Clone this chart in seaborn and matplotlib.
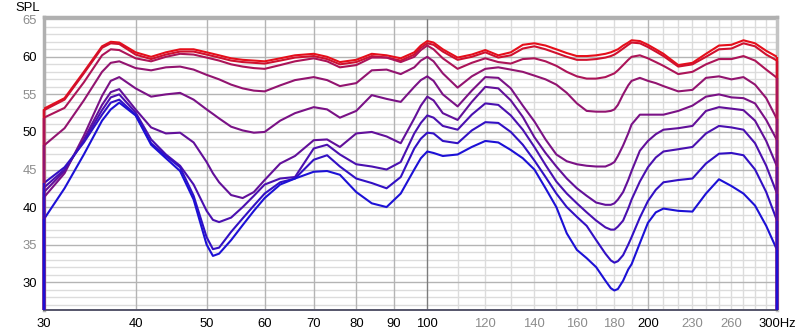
import matplotlib
matplotlib.use("Agg")
import matplotlib.pyplot as plt
import seaborn as sns
import pandas as pd

# ---------------- data ----------------
freqs = [30, 32, 34, 36, 37, 38, 40, 42, 44, 46, 48, 50, 51, 52, 54, 56, 58, 60, 63, 66,
         70, 73, 76, 80, 84, 88, 92, 96, 98, 100, 102, 105, 110, 115, 120, 125, 130, 135,
         140, 145, 150, 155, 160, 165, 170, 175, 178, 180, 182, 185, 188, 190, 195, 200,
         205, 210, 220, 230, 240, 250, 260, 270, 280, 290, 300]

spl_c9 = [53.1, 54.5, 58.0, 61.4, 62.0, 61.9, 60.6, 60.0, 60.6, 61.0, 61.0, 60.6, 60.4, 60.2, 59.8, 59.6, 59.5, 59.4, 59.8, 60.2,
          60.4, 60.0, 59.3, 59.6, 60.4, 60.2, 59.8, 60.6, 61.5, 62.1, 61.9, 61.0, 59.9, 60.3, 60.9, 60.2, 60.6, 61.6,
          61.8, 61.5, 61.0, 60.5, 60.1, 60.1, 60.2, 60.4, 60.6, 60.8, 61.0, 61.5, 61.9, 62.2, 62.1, 61.6,
          61.0, 60.4, 58.9, 59.2, 60.4, 61.5, 61.6, 62.2, 61.8, 60.8, 60.0]
spl_c8 = [52.9, 54.3, 57.8, 61.2, 61.8, 61.7, 60.3, 59.7, 60.3, 60.7, 60.7, 60.3, 60.1, 59.9, 59.5, 59.3, 59.2, 59.1, 59.5, 59.9,
          60.1, 59.7, 59.0, 59.3, 60.1, 59.9, 59.5, 60.3, 61.2, 61.8, 61.6, 60.7, 59.6, 60.0, 60.6, 59.9, 60.2, 61.1,
          61.4, 61.0, 60.5, 60.0, 59.6, 59.6, 59.7, 59.9, 60.1, 60.3, 60.6, 61.1, 61.6, 61.9, 61.8, 61.3,
          60.7, 60.1, 58.7, 59.0, 60.0, 61.0, 61.1, 61.8, 61.4, 60.3, 59.5]
spl_c7 = [51.9, 53.2, 56.6, 60.2, 61.0, 60.9, 59.8, 59.4, 60.0, 60.4, 60.3, 59.9, 59.7, 59.5, 59.0, 58.7, 58.5, 58.4, 58.9, 59.4,
          59.8, 59.4, 58.6, 58.9, 59.9, 59.9, 59.3, 60.0, 60.9, 61.5, 61.0, 59.8, 58.4, 59.2, 59.8, 59.3, 59.1, 59.7,
          59.8, 59.4, 58.8, 58.0, 57.4, 57.1, 57.1, 57.3, 57.6, 57.8, 58.2, 58.9, 59.6, 60.0, 60.2, 59.8,
          59.3, 58.8, 57.7, 58.0, 59.0, 59.7, 59.7, 60.1, 59.5, 58.3, 57.2]
spl_c6 = [48.2, 50.5, 54.2, 58.0, 59.2, 59.4, 58.5, 58.2, 58.6, 58.7, 58.3, 57.6, 57.3, 57.0, 56.3, 55.8, 55.5, 55.4, 56.2, 56.9,
          57.3, 56.9, 56.1, 56.5, 58.2, 58.3, 57.7, 58.6, 59.5, 60.0, 59.4, 57.8, 55.9, 57.4, 58.4, 58.6, 58.3, 58.0,
          57.5, 57.0, 56.3, 55.2, 53.8, 52.8, 52.7, 52.7, 52.8, 53.0, 53.6, 55.0, 56.2, 56.8, 57.2, 56.8,
          56.5, 56.1, 55.4, 55.6, 57.2, 57.4, 57.0, 57.3, 56.3, 54.5, 51.7]
spl_c5 = [41.3, 44.5, 49.5, 54.8, 56.8, 57.3, 55.8, 54.7, 55.0, 55.2, 54.3, 53.0, 52.4, 51.8, 50.7, 50.2, 49.9, 50.0, 51.5, 52.5,
          53.3, 53.0, 51.9, 52.8, 54.9, 54.4, 54.0, 56.0, 56.9, 57.4, 56.8, 55.0, 53.4, 55.5, 57.3, 57.2, 55.8, 53.5,
          51.4, 49.0, 47.0, 46.1, 45.7, 45.5, 45.4, 45.4, 45.7, 46.0, 46.8, 48.2, 49.8, 51.0, 52.3, 52.3,
          52.3, 52.3, 52.8, 53.5, 54.7, 55.0, 54.6, 54.5, 53.8, 51.6, 48.9]
spl_c4 = [42.0, 44.8, 49.0, 53.6, 55.3, 55.7, 53.0, 50.6, 49.8, 49.9, 48.6, 46.0, 44.5, 43.3, 41.6, 41.2, 42.0, 43.6, 45.8, 46.8,
          48.9, 49.0, 48.0, 49.8, 50.0, 49.4, 48.5, 51.8, 53.5, 54.7, 54.2, 52.5, 51.6, 54.0, 56.0, 55.8, 54.2, 52.0,
          49.3, 47.2, 45.4, 43.8, 42.5, 41.5, 40.6, 40.3, 40.3, 40.5, 41.0, 42.0, 43.6, 44.8, 47.5, 48.8,
          49.7, 50.3, 50.5, 50.8, 52.8, 53.3, 53.1, 52.9, 51.5, 48.8, 45.4]
spl_c3 = [42.6, 45.0, 48.8, 52.9, 54.6, 55.0, 52.6, 49.0, 47.0, 45.5, 43.0, 39.5, 38.3, 38.0, 38.6, 40.0, 41.5, 43.0, 43.8, 44.0,
          47.8, 48.3, 47.0, 45.7, 45.4, 45.0, 46.0, 49.8, 51.2, 52.2, 51.9, 50.8, 50.3, 52.3, 53.8, 53.6, 52.2, 50.3,
          48.0, 45.6, 43.4, 41.8, 40.5, 39.3, 38.2, 37.3, 37.0, 37.0, 37.4, 38.2, 39.8, 41.0, 43.4, 45.3,
          46.6, 47.4, 47.7, 48.0, 49.8, 50.8, 50.6, 50.3, 48.5, 45.5, 41.8]
spl_c2 = [43.2, 45.3, 48.6, 52.3, 53.9, 54.3, 52.3, 48.5, 46.8, 45.3, 41.5, 36.0, 34.4, 34.6, 36.7, 38.5, 40.2, 41.8, 43.3, 43.8,
          46.3, 46.9, 45.4, 43.8, 43.2, 42.5, 44.0, 47.8, 49.1, 49.9, 49.8, 48.8, 48.5, 50.2, 51.3, 51.2, 50.0, 48.3,
          46.2, 44.0, 41.8, 40.0, 38.7, 37.5, 35.6, 33.8, 32.9, 32.6, 32.8, 33.6, 35.0, 36.0, 38.6, 40.8,
          42.3, 43.3, 43.6, 43.8, 45.8, 47.1, 47.2, 46.9, 45.0, 42.0, 38.2]
spl_c1 = [38.4, 42.5, 47.0, 51.5, 53.0, 53.9, 52.2, 48.3, 46.5, 44.8, 41.0, 35.0, 33.5, 33.8, 35.6, 37.6, 39.5, 41.2, 43.0, 43.8,
          44.7, 44.8, 44.3, 42.0, 40.5, 40.0, 41.8, 45.0, 46.5, 47.4, 47.2, 46.8, 47.0, 48.0, 48.8, 48.6, 47.6, 46.5,
          45.0, 42.5, 40.0, 36.5, 34.3, 33.2, 32.0, 30.2, 29.2, 28.9, 29.1, 30.2, 31.7, 32.4, 35.2, 37.9,
          39.3, 39.8, 39.5, 39.4, 41.8, 43.7, 42.8, 41.8, 40.2, 37.5, 34.3]

curve_names = ["C1", "C2", "C3", "C4", "C5", "C6", "C7", "C8", "C9"]
curve_values = [spl_c1, spl_c2, spl_c3, spl_c4, spl_c5, spl_c6, spl_c7, spl_c8, spl_c9]
for vals in curve_values:
    assert len(vals) == len(freqs), len(vals)

x_ticks = [30, 40, 50, 60, 70, 80, 90, 100, 120, 140, 160, 180, 200, 230, 260, 300]
x_labels = ["30", "40", "50", "60", "70", "80", "90", "100", "120", "140", "160", "180",
            "200", "230", "260", "300Hz"]
y_ticks = [30, 35, 40, 45, 50, 55, 60, 65]
y_labels = ["30", "35", "40", "45", "50", "55", "60", "65"]

# ---------------- styling ----------------
colors = ["#1c10d6", "#3210c4", "#4a10b0", "#62109a", "#7a1286", "#921470",
          "#ac1458", "#d0102e", "#e60e1a"]
palette = dict(zip(curve_names, colors))

YMIN, YMAX = 26.3, 65.3

rows = []
for name, vals in zip(curve_names, curve_values):
    for f, v in zip(freqs, vals):
        rows.append((name, f, v))
df = pd.DataFrame(rows, columns=["curve", "freq", "spl"])

sns.set_style("white")
plt.rcParams["font.family"] = ["Liberation Sans", "DejaVu Sans"]

fig = plt.figure(figsize=(8.0, 3.35), dpi=100)
ax = fig.add_axes([44 / 800, 1 - 310 / 335, (777 - 44) / 800, (310 - 17) / 335])
ax.set_xscale("log")
ax.set_xlim(30, 300)
ax.set_ylim(YMIN, YMAX)

# grid
for f in list(range(110, 200, 10)) + list(range(210, 300, 10)):
    ax.axvline(f, color="#dcdcdc", lw=1.0, zorder=0.5)
for f in [40, 50, 60, 70, 80, 90, 200]:
    ax.axvline(f, color="#b4b4b4", lw=1.0, zorder=0.6)
ax.axvline(100, color="#7c7c7c", lw=1.0, zorder=0.7)
for d in range(27, 66):
    if d % 5:
        ax.axhline(d, color="#dcdcdc", lw=1.0, zorder=0.5)
for d in y_ticks:
    ax.axhline(d, color="#b4b4b4", lw=1.0, zorder=0.6)

order = curve_names[::-1]  # red drawn first, blue on top
sns.lineplot(data=df, x="freq", y="spl", hue="curve", hue_order=order, palette=palette,
             estimator=None, sort=False, linewidth=1.5, legend=False, ax=ax, zorder=3)
for ln in ax.get_lines():
    ln.set_solid_joinstyle("round")
    ln.set_solid_capstyle("round")

# drop-offs at the ends of the measured range
for name in order:
    vals = curve_values[curve_names.index(name)]
    ax.vlines([freqs[0], freqs[-1]], YMIN, [vals[0], vals[-1]], colors=palette[name],
              lw=1.7, zorder=3, clip_on=False)

ax.set_xlabel("")
ax.set_ylabel("")
ax.minorticks_off()
ax.set_xticks(x_ticks)
ax.set_xticklabels(x_labels)
ax.set_yticks(y_ticks)
ax.set_yticklabels(y_labels)
ax.tick_params(axis="both", length=0, labelsize=9.4)
ax.tick_params(axis="x", pad=6)
ax.tick_params(axis="y", pad=5)
black_x = {"30", "40", "50", "60", "70", "80", "90", "100", "200", "300Hz"}
for lab in ax.get_xticklabels():
    lab.set_color("#000000" if lab.get_text() in black_x else "#8c8c8c")
for lab in ax.get_yticklabels():
    lab.set_color("#000000" if int(lab.get_text()) % 10 == 0 else "#8c8c8c")

for side in ["left", "top"]:
    ax.spines[side].set_color("#b0b0b0")
    ax.spines[side].set_linewidth(2.5)
ax.spines["right"].set_color("#c4c4c4")
ax.spines["right"].set_linewidth(2.5)
ax.spines["bottom"].set_color("#55556a")
ax.spines["bottom"].set_linewidth(1.4)
for s in ax.spines.values():
    s.set_zorder(2.5)

fig.text(27.5 / 800, 1 - 8 / 335, "SPL", ha="center", va="center", fontsize=9.4, color="#000000")

fig.savefig("out.png", dpi=100, facecolor="white")
